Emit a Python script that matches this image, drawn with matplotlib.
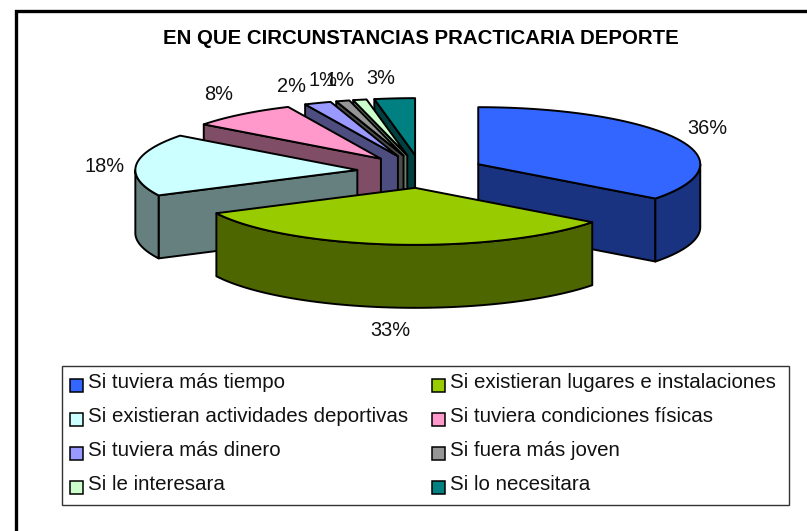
#!/usr/bin/env python3
"""Exploded 3D pie: EN QUE CIRCUNSTANCIAS PRACTICARIA DEPORTE."""
import numpy as np
import matplotlib
matplotlib.use("Agg")
import matplotlib.pyplot as plt
from matplotlib.patches import Polygon, Rectangle

plt.rcParams["font.family"] = ["Liberation Sans", "DejaVu Sans"]

TITLE = "EN QUE CIRCUNSTANCIAS PRACTICARIA DEPORTE"
categories = [
    "Si tuviera más tiempo",
    "Si existieran lugares e instalaciones",
    "Si existieran actividades deportivas",
    "Si tuviera condiciones físicas",
    "Si tuviera más dinero",
    "Si fuera más joven",
    "Si le interesara",
    "Si lo necesitara",
]
values = [36, 33, 18, 8, 2, 1, 1, 3]
labels = ["36%", "33%", "18%", "8%", "2%", "1%", "1%", "3%"]
top_colors = ["#3366FF", "#99CC00", "#CCFFFF", "#FF99CC",
              "#9999FF", "#969696", "#CCFFCC", "#008080"]
side_colors = ["#1A3380", "#4D6600", "#668080", "#804D66",
               "#4D4D80", "#4B4B4B", "#668066", "#004040"]
label_xy = [(707, 128), (390, 330), (105, 166), (219, 94),
            (292, 86), (323, 81), (340, 81), (381, 78)]

# pie geometry, in pixels
CX, CY = 421, 171.5
RX, RY = 222, 57
EXPLODE = 0.288
DEPTH = 63
LW = 1.4


def pt(a, ox, oy, dy=0):
    """Point on the rim at clockwise-from-top angle a (radians)."""
    return ox + RX * np.sin(a), oy - RY * np.cos(a) + dy


def draw_slice(ax, start, end, top, side):
    mid = (start + end) / 2
    ox = CX + EXPLODE * RX * np.sin(mid)
    oy = CY - EXPLODE * RY * np.cos(mid)
    kw = dict(edgecolor="black", lw=LW, joinstyle="round")

    # cut faces that look towards the viewer
    for a, visible in ((start, np.sin(start) < -1e-6), (end, np.sin(end) > 1e-6)):
        if visible:
            ax.add_patch(Polygon([(ox, oy), pt(a, ox, oy), pt(a, ox, oy, DEPTH),
                                  (ox, oy + DEPTH)], facecolor=side, **kw))

    # front part of the rim
    lo, hi = max(start, np.pi / 2), min(end, 3 * np.pi / 2)
    if hi > lo:
        t = np.linspace(lo, hi, 60)
        upper = [pt(a, ox, oy) for a in t]
        lower = [pt(a, ox, oy, DEPTH) for a in t[::-1]]
        ax.add_patch(Polygon(upper + lower, facecolor=side, **kw))

    t = np.linspace(start, end, 80)
    ax.add_patch(Polygon([(ox, oy)] + [pt(a, ox, oy) for a in t],
                         facecolor=top, **kw))


def main():
    fig = plt.figure(figsize=(8.07, 5.31), dpi=100)
    ax = fig.add_axes([0, 0, 1, 1])
    ax.set_xlim(0, 807)
    ax.set_ylim(531, 0)
    ax.axis("off")

    # only the top and left of the chart frame are in the picture
    ax.plot([15.5, 15.5, 807], [531, 10.5, 10.5], color="black", lw=2.4,
            solid_joinstyle="miter")

    ax.text(421, 38, TITLE, ha="center", va="center", fontsize=14.7,
            fontweight="bold")

    edges = np.cumsum([0] + values) / sum(values) * 2 * np.pi
    for i in [7, 6, 5, 4, 3, 2, 0, 1]:
        draw_slice(ax, edges[i], edges[i + 1], top_colors[i], side_colors[i])

    for (x, y), lab in zip(label_xy, labels):
        ax.text(x, y, lab, ha="center", va="center", fontsize=14.4, color="#111111")

    # legend
    ax.add_patch(Rectangle((62, 366), 727, 139, facecolor="white",
                           edgecolor="#333333", lw=1.0))
    rows_y = [385, 419, 453, 487]
    cols_x = [70, 432]
    for i, name in enumerate(categories):
        x, y = cols_x[i % 2], rows_y[i // 2]
        ax.add_patch(Rectangle((x, y - 6.5), 13, 13, facecolor=top_colors[i],
                               edgecolor="black", lw=1.1))
        ax.text(x + 18, y - 2, name, ha="left", va="center", fontsize=14.8,
                color="#111111")

    fig.savefig("out.png", dpi=100)


if __name__ == "__main__":
    main()
